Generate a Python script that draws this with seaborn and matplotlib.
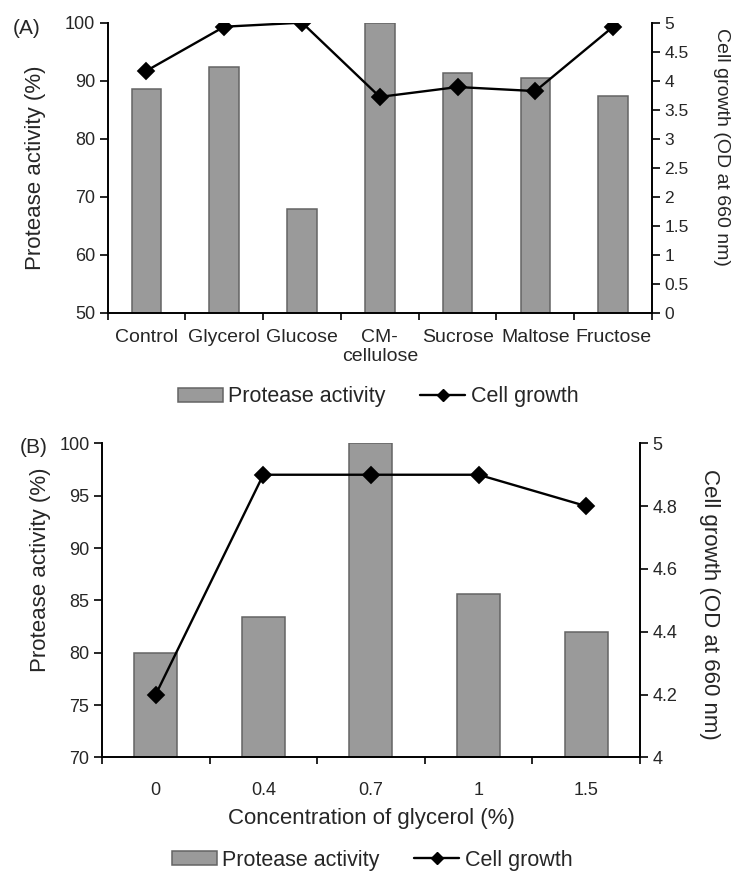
import numpy as np
import pandas as pd
import matplotlib
matplotlib.use("Agg")
import matplotlib.pyplot as plt
from matplotlib.patches import Patch
from matplotlib.lines import Line2D
from matplotlib.ticker import FuncFormatter, MultipleLocator, FixedLocator
import seaborn as sns

# ---- data: carbon source screening (A) ----
carbon_sources = ["Control", "Glycerol", "Glucose", "CM-\ncellulose",
                  "Sucrose", "Maltose", "Fructose"]
protease_a = [88.6, 92.4, 67.8, 100.0, 91.4, 90.5, 87.4]
growth_a = [4.17, 4.93, 5.00, 3.72, 3.89, 3.82, 4.93]

# ---- data: glycerol concentration (B) ----
glycerol_conc = ["0", "0.4", "0.7", "1", "1.5"]
protease_b = [80.0, 83.4, 100.0, 85.6, 82.0]
growth_b = [4.2, 4.9, 4.9, 4.9, 4.8]

sns.set_style("ticks")
plt.rcParams["font.family"] = ["Liberation Sans", "DejaVu Sans"]

BAR_FACE = "#9a9a9a"
BAR_EDGE = "#646464"
fmt = FuncFormatter(lambda v, p: f"{v:g}")

fig = plt.figure(figsize=(7.31, 8.71), dpi=100)


def style_axes(ax, ax2, n):
    for a in (ax, ax2):
        for s in a.spines.values():
            s.set_linewidth(1.4)
            s.set_color("black")
        a.spines["top"].set_visible(False)
    ax.spines["right"].set_visible(False)
    ax2.spines["right"].set_visible(True)
    ax2.spines["left"].set_visible(False)
    ax2.spines["bottom"].set_visible(False)
    ax.set_xlim(-0.5, n - 0.5)
    # category separators as outward ticks on the x axis
    ax.xaxis.set_minor_locator(FixedLocator(np.arange(n + 1) - 0.5))
    ax.tick_params(axis="x", which="minor", length=5, width=1.4, direction="out")
    ax.tick_params(axis="x", which="major", length=0, pad=8)
    ax.tick_params(axis="y", length=6, width=1.4, direction="out", pad=3)
    ax2.tick_params(axis="y", length=6, width=1.4, direction="out", pad=3)
    ax.set_xlabel("")


def draw_panel(rect, cats, prot, growth, ylim, ystep, y2lim, y2step,
               bar_width, tag, tag_xy, fs):
    ax = fig.add_axes(rect)
    sns.barplot(x=cats, y=prot, ax=ax, color=BAR_FACE, width=bar_width,
                edgecolor=BAR_EDGE, linewidth=1.1, saturation=1)
    for p in ax.patches:
        p.set_facecolor(BAR_FACE)
    ax2 = ax.twinx()
    sns.pointplot(x=cats, y=growth, ax=ax2, color="black", markers="D",
                  linestyles="-", markersize=8.5, linewidth=1.7)
    ax.set_ylim(*ylim)
    ax.yaxis.set_major_locator(MultipleLocator(ystep))
    ax2.set_ylim(*y2lim)
    ax2.yaxis.set_major_locator(MultipleLocator(y2step))
    ax2.yaxis.set_major_formatter(fmt)
    ax.yaxis.set_major_formatter(fmt)
    style_axes(ax, ax2, len(cats))
    ax2.set_xlim(-0.5, len(cats) - 0.5)
    for lab in ax.get_yticklabels():
        lab.set_fontsize(fs["yl"])
    for lab in ax2.get_yticklabels():
        lab.set_fontsize(fs["yr"])
    for lab in ax.get_xticklabels():
        lab.set_fontsize(fs["x"])
        lab.set_linespacing(1.1)
    fig.text(tag_xy[0] / 731, 1 - tag_xy[1] / 871, tag, fontsize=15,
             ha="center", va="center")
    return ax, ax2


def add_legend(ax, anchor):
    handles = [Patch(facecolor=BAR_FACE, edgecolor=BAR_EDGE, linewidth=1.1),
               Line2D([], [], color="black", marker="D", markersize=6,
                      linewidth=1.7)]
    ax.legend(handles, ["Protease activity", "Cell growth"], loc="center",
              bbox_to_anchor=anchor, ncol=2, frameon=False, fontsize=15.5,
              handlelength=2.1, handleheight=0.65, handletextpad=0.25,
              columnspacing=1.6, borderaxespad=0)


# ---- panel A ----
axA, axA2 = draw_panel([0.1471, 0.641, 0.7449, 0.333], carbon_sources,
                       protease_a, growth_a, (50, 100), 10, (0, 5), 0.5,
                       0.38, "(A)", (27, 28), {"yl": 13, "yr": 12.5, "x": 14})
axA.tick_params(axis="x", which="major", pad=12)
axA.set_ylabel("Protease activity (%)", fontsize=16, va="center")
axA.yaxis.set_label_coords(-0.133, 0.5)
axA2.set_ylabel("Cell growth (OD at 660 nm)", fontsize=14, rotation=270,
                va="center")
axA2.yaxis.set_label_coords(1.127, 0.57)
add_legend(axA, (0.497, -0.29))

# ---- panel B ----
axB, axB2 = draw_panel([0.1394, 0.1305, 0.7361, 0.3605], glycerol_conc,
                       protease_b, growth_b, (70, 100), 5, (4, 5), 0.2,
                       0.40, "(B)", (34, 447), {"yl": 13, "yr": 13, "x": 13})
axB.tick_params(axis="x", which="major", pad=18)
axB.set_xlabel("Concentration of glycerol (%)", fontsize=16, labelpad=6)
axB.set_ylabel("Protease activity (%)", fontsize=16, va="center")
axB.yaxis.set_label_coords(-0.115, 0.597)
axB2.set_ylabel("Cell growth (OD at 660 nm)", fontsize=16, rotation=270,
                va="center")
axB2.yaxis.set_label_coords(1.130, 0.488)
add_legend(axB, (0.502, -0.327))

fig.savefig("out.png", dpi=100)
